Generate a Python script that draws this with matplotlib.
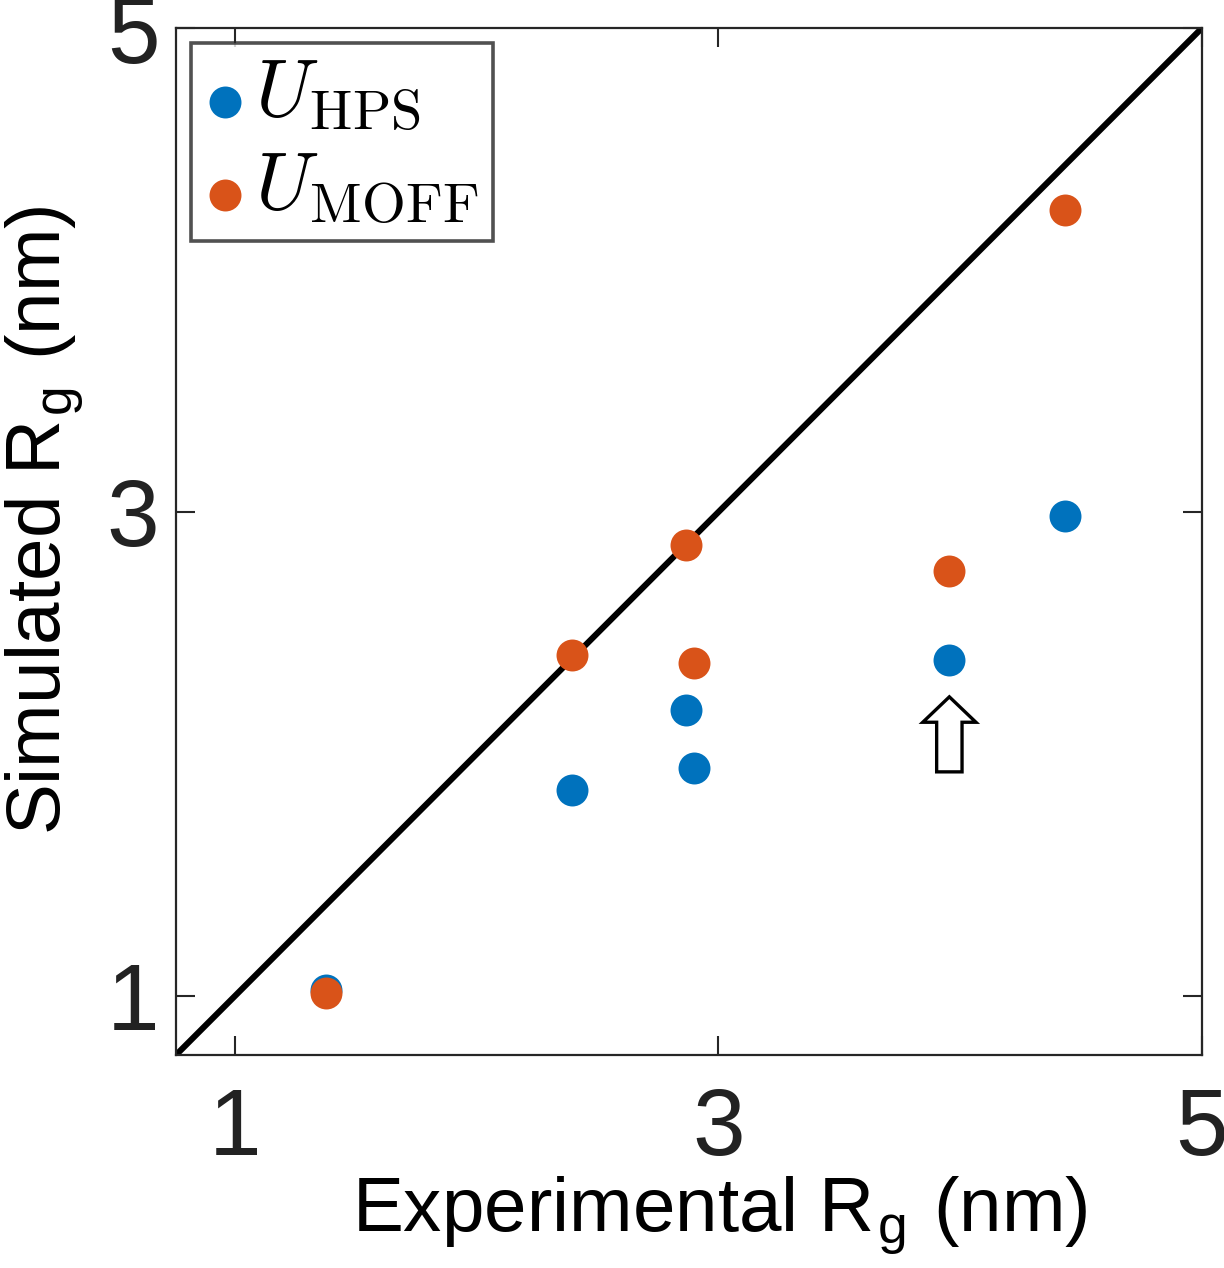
import matplotlib
matplotlib.use("Agg")
import numpy as np
import matplotlib.pyplot as plt
from matplotlib.patches import FancyArrow

plt.rcParams['font.family'] = ['Liberation Sans', 'DejaVu Sans']
plt.rcParams['mathtext.fontset'] = 'cm'

exp_rg = [1.376, 2.393, 2.864, 2.897, 3.955, 4.434]
hps_rg = [1.025, 1.851, 2.182, 1.942, 2.388, 2.983]
moff_rg = [1.012, 2.409, 2.864, 2.376, 2.756, 4.248]
ticks = [1, 3, 5]
lims = [0.756, 5.0]

blue = '#0072BD'
orange = '#D95319'
axcol = '#262626'

fig = plt.figure(figsize=(12.24, 12.68), dpi=100)
ax = fig.add_axes([0.1438, 0.168, 0.8382, 0.8099])

ax.plot(lims, lims, color='black', lw=4.4, zorder=2, solid_capstyle='butt')
ax.plot(exp_rg, hps_rg, 'o', color=blue, ms=23, mec='none', label=r'$U_{\rm HPS}$', zorder=3)
ax.plot(exp_rg, moff_rg, 'o', color=orange, ms=23, mec='none', label=r'$U_{\rm MOFF}$', zorder=4)

# hollow arrow pointing at the HPS point near x=3.955
ax.add_patch(FancyArrow(3.955, 1.926, 0, 0.31, width=0.105, head_width=0.22,
                        head_length=0.105, length_includes_head=True,
                        facecolor='white', edgecolor='black', lw=2.4, zorder=5))

ax.set_xlim(lims)
ax.set_ylim(lims)
ax.set_xticks(ticks)
ax.set_yticks(ticks)
ax.tick_params(direction='in', length=14, width=1.5, colors=axcol, labelsize=68,
               top=True, right=True, pad=12)
ax.tick_params(axis='x', pad=22)
for lbl in ax.get_xticklabels() + ax.get_yticklabels():
    lbl.set_color('#222222')
for s in ax.spines.values():
    s.set_linewidth(1.6)
    s.set_color(axcol)

ax.set_xlabel(r'Experimental R$_\mathregular{g}$ (nm)', fontsize=55, color='black', labelpad=0)
ax.set_ylabel(r'Simulated R$_\mathregular{g}$ (nm)', fontsize=55, color='black', labelpad=15)
ax.xaxis.label.set_x(0.53)
ax.yaxis.label.set_y(0.521)

leg = ax.legend(loc='upper left', fontsize=58, frameon=True, fancybox=False,
                handlelength=0.5, handletextpad=0.12, borderpad=0.18,
                labelspacing=0.22, borderaxespad=0.18, markerscale=1.0)
leg.get_frame().set_edgecolor(axcol)
leg.get_frame().set_linewidth(2.6)
for h in leg.legend_handles:
    yd = np.asarray(h.get_ydata(), dtype=float)
    h.set_ydata(yd - 10)

fig.savefig('out.png', dpi=100)
